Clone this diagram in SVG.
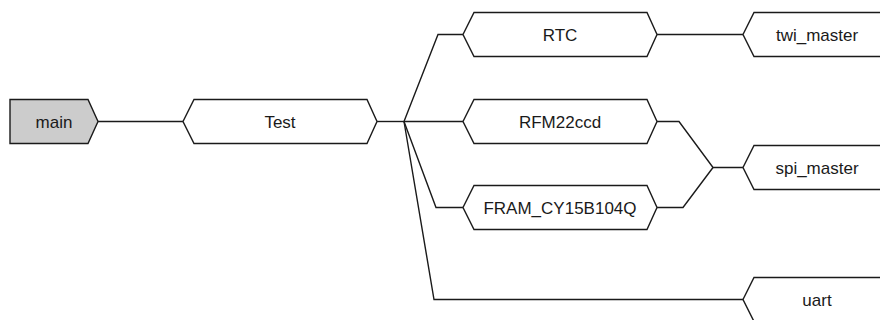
<svg xmlns="http://www.w3.org/2000/svg" width="880" height="320" viewBox="0 0 880 320">
<style>
.n{fill:#fff;stroke:#1a1a1a;stroke-width:1.4}
.root{fill:#cccccc;stroke:#1a1a1a;stroke-width:1.4}
.e{fill:none;stroke:#1a1a1a;stroke-width:1.4}
text{font-family:"Liberation Sans",Arial,sans-serif;font-size:17px;fill:#1a1a1a;text-anchor:middle}
</style>
<rect width="880" height="320" fill="#fff"/>
<g id="connectors">
<path class="e" d="M98,121.5H183"/>
<path class="e" d="M377,121.5H404"/>
<path class="e" d="M404,121.5L438,34.5H463"/>
<path class="e" d="M404,121.5H463"/>
<path class="e" d="M404,121.5L436,207.5H463"/>
<path class="e" d="M404,121.5L434,299.5H743"/>
<path class="e" d="M657,34.5H743"/>
<path class="e" d="M657,121.5H679L713,167.5H743"/>
<path class="e" d="M657,207.5H683L713,167.5"/>
</g>
<g id="main">
<polygon class="root" points="10,99.5 88,99.5 98,121.5 88,143.5 10,143.5"/>
<text x="54" y="127.5">main</text>
</g>
<g id="Test">
<polygon class="n" points="183,121.5 194,99.5 367,99.5 377,121.5 367,143.5 194,143.5"/>
<text x="280" y="127.5">Test</text>
</g>
<g id="RTC">
<polygon class="n" points="463,34.5 474,12.5 647,12.5 657,34.5 647,56.5 474,56.5"/>
<text x="560" y="40.5">RTC</text>
</g>
<g id="RFM22ccd">
<polygon class="n" points="463,121.5 474,99.5 647,99.5 657,121.5 647,143.5 474,143.5"/>
<text x="560" y="127.5">RFM22ccd</text>
</g>
<g id="FRAM_CY15B104Q">
<polygon class="n" points="463,207.5 474,185.5 647,185.5 657,207.5 647,229.5 474,229.5"/>
<text x="560" y="213.5">FRAM_CY15B104Q</text>
</g>
<g id="twi_master">
<polygon class="n" points="743,34.5 754,12.5 927,12.5 937,34.5 927,56.5 754,56.5"/>
<text x="817" y="40.5">twi_master</text>
</g>
<g id="spi_master">
<polygon class="n" points="743,167.5 754,145.5 927,145.5 937,167.5 927,189.5 754,189.5"/>
<text x="817" y="173.5">spi_master</text>
</g>
<g id="uart">
<polygon class="n" points="743,299.5 754,277.5 927,277.5 937,299.5 927,321.5 754,321.5"/>
<text x="817" y="305.5">uart</text>
</g>
</svg>
